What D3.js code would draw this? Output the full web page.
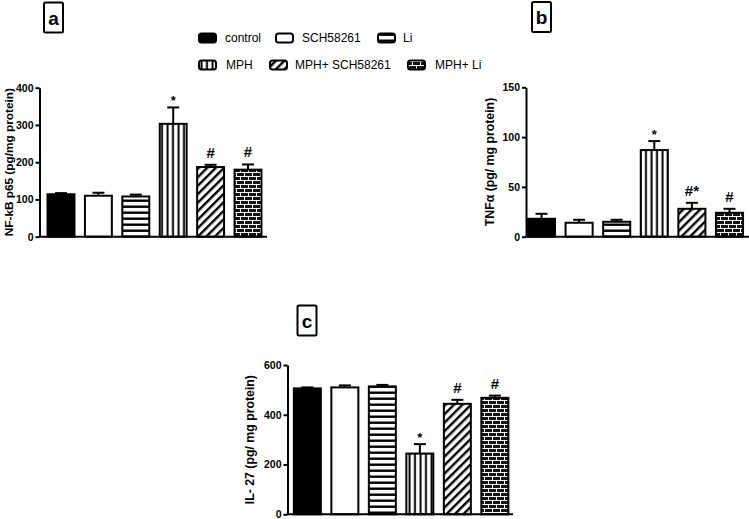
<!DOCTYPE html>
<html>
<head>
<meta charset="utf-8">
<script src="https://cdn.jsdelivr.net/npm/d3@7"></script>
<style>
  body { margin: 0; background: #fff; }
  svg { display: block; font-family: "Liberation Sans", Arial, sans-serif; }
</style>
</head>
<body>
<div id="chart"></div>
<script>
// Groups (shared by the three panels)
const groups = ["control", "SCH58261", "Li", "MPH", "MPH+ SCH58261", "MPH+ Li"];
const fills = ["url(#solid)", "url(#blank)", "url(#hstripe)", "url(#vstripe)", "url(#diag)", "url(#brick)"];

// Panel a: NF-kB p65
const nfkbMean = [114, 110, 108, 303, 187, 180];
const nfkbErr = [3, 8, 5, 44, 6, 14];
const nfkbMarks = ["", "", "", "*", "#", "#"];
const nfkbTicks = [0, 100, 200, 300, 400];

// Panel b: TNF-alpha
const tnfMean = [18, 14, 15, 87, 28, 24];
const tnfErr = [5, 3, 2, 9, 6, 4];
const tnfMarks = ["", "", "", "*", "#*", "#"];
const tnfTicks = [0, 50, 100, 150];

// Panel c: IL-27
const il27Mean = [506, 510, 514, 244, 444, 468];
const il27Err = [4, 8, 6, 38, 16, 9];
const il27Marks = ["", "", "", "*", "#", "#"];
const il27Ticks = [0, 200, 400, 600];

const W = 749, H = 519;

let svg = d3.select("#chart")
    .append("svg")
    .attr("width", W)
    .attr("height", H);

// Fill patterns for the bars
let defs = svg.append("defs");

defs.append("pattern").attr("id", "solid")
    .attr("patternUnits", "userSpaceOnUse").attr("width", 4).attr("height", 4)
    .append("rect").attr("width", 4).attr("height", 4).attr("fill", "#000");

defs.append("pattern").attr("id", "blank")
    .attr("patternUnits", "userSpaceOnUse").attr("width", 4).attr("height", 4)
    .append("rect").attr("width", 4).attr("height", 4).attr("fill", "#fff");

let hs = defs.append("pattern").attr("id", "hstripe")
    .attr("patternUnits", "userSpaceOnUse").attr("width", 6).attr("height", 6);
hs.append("rect").attr("width", 6).attr("height", 6).attr("fill", "#fff");
hs.append("rect").attr("y", 1.5).attr("width", 6).attr("height", 2.4).attr("fill", "#000");

let vs = defs.append("pattern").attr("id", "vstripe")
    .attr("patternUnits", "userSpaceOnUse").attr("width", 5.5).attr("height", 6);
vs.append("rect").attr("width", 5.5).attr("height", 6).attr("fill", "#fff");
vs.append("rect").attr("x", 1.5).attr("width", 2).attr("height", 6).attr("fill", "#000");

let dg = defs.append("pattern").attr("id", "diag")
    .attr("patternUnits", "userSpaceOnUse").attr("width", 6).attr("height", 6)
    .attr("patternTransform", "rotate(45)");
dg.append("rect").attr("width", 6).attr("height", 6).attr("fill", "#fff");
dg.append("rect").attr("x", 0).attr("width", 2.4).attr("height", 6).attr("fill", "#000");

let bk = defs.append("pattern").attr("id", "brick")
    .attr("patternUnits", "userSpaceOnUse").attr("width", 8).attr("height", 8);
bk.append("rect").attr("width", 8).attr("height", 8).attr("fill", "#111");
bk.append("path")
    .attr("d", "M0,0.5H8 M0,4.5H8 M0.5,0.5V4.5 M4.5,4.5V8.5")
    .attr("stroke", "#fff").attr("stroke-width", 1).attr("fill", "none");

// Draw one bar panel
function drawPanel(p) {
    let g = svg.append("g");

    let x = d3.scaleBand()
        .domain(groups)
        .range(p.bandRange)
        .paddingInner(0.28)
        .paddingOuter(0.14);

    let y = d3.scaleLinear()
        .domain([0, p.ticks[p.ticks.length - 1]])
        .range(p.yRange);

    // bars
    g.selectAll("rect.bar")
        .data(groups)
        .enter()
        .append("rect")
        .attr("class", "bar")
        .attr("x", d => x(d))
        .attr("y", (d, i) => y(p.mean[i]))
        .attr("width", x.bandwidth())
        .attr("height", (d, i) => y(0) - y(p.mean[i]))
        .attr("fill", (d, i) => fills[i])
        .attr("stroke", "#000")
        .attr("stroke-width", 2);

    // error bars (upper only)
    let eb = g.selectAll("g.err")
        .data(groups)
        .enter()
        .append("g");
    eb.append("line")
        .attr("x1", d => x(d) + x.bandwidth() / 2)
        .attr("x2", d => x(d) + x.bandwidth() / 2)
        .attr("y1", (d, i) => y(p.mean[i]))
        .attr("y2", (d, i) => y(p.mean[i] + p.err[i]))
        .attr("stroke", "#000").attr("stroke-width", 2);
    eb.append("line")
        .attr("x1", d => x(d) + x.bandwidth() / 2 - 6)
        .attr("x2", d => x(d) + x.bandwidth() / 2 + 6)
        .attr("y1", (d, i) => y(p.mean[i] + p.err[i]))
        .attr("y2", (d, i) => y(p.mean[i] + p.err[i]))
        .attr("stroke", "#000").attr("stroke-width", 2);

    // significance marks
    g.selectAll("text.mark")
        .data(groups)
        .enter()
        .append("text")
        .attr("x", d => x(d) + x.bandwidth() / 2)
        .attr("y", (d, i) => y(p.mean[i] + p.err[i]) - (p.marks[i] == "*" ? 2 : 7))
        .attr("text-anchor", "middle")
        .style("font-size", (d, i) => p.marks[i] == "*" ? "13px" : "15px")
        .style("font-weight", "bold")
        .text((d, i) => p.marks[i]);

    // y axis
    let ax = g.append("g")
        .attr("transform", `translate(${p.axisX}, 0)`)
        .call(d3.axisLeft(y).tickValues(p.ticks).tickSize(4).tickSizeOuter(0).tickPadding(2));
    ax.select(".domain").attr("stroke-width", 2);
    ax.selectAll(".tick line").attr("stroke-width", 2);
    ax.selectAll(".tick text")
        .style("font-size", "10.5px")
        .style("font-weight", "bold")
        .style("font-family", '"Liberation Sans", Arial, sans-serif')
        .attr("fill", "#000");

    // x axis baseline
    g.append("line")
        .attr("x1", p.axisX - 1)
        .attr("x2", p.axisEnd)
        .attr("y1", y(0))
        .attr("y2", y(0))
        .attr("stroke", "#000").attr("stroke-width", 2);

    // y axis title
    g.append("text")
        .attr("transform", `translate(${p.titleX}, ${(p.yRange[0] + p.yRange[1]) / 2}) rotate(-90)`)
        .attr("text-anchor", "middle")
        .attr("dy", "0.35em")
        .style("font-size", p.titleSize)
        .style("font-weight", "bold")
        .text(p.title);

    // boxed panel letter
    g.append("rect")
        .attr("x", p.box[0]).attr("y", p.box[1])
        .attr("width", 19).attr("height", 30)
        .attr("rx", 1.5)
        .attr("fill", "#fff").attr("stroke", "#000").attr("stroke-width", 2);
    g.append("text")
        .attr("x", p.box[0] + 9.5)
        .attr("y", p.box[1] + 22)
        .attr("text-anchor", "middle")
        .style("font-size", "19px")
        .style("font-weight", "bold")
        .text(p.letter);
}

drawPanel({
    mean: nfkbMean, err: nfkbErr, marks: nfkbMarks, ticks: nfkbTicks,
    bandRange: [42.3, 266.7], yRange: [236.7, 87.7],
    axisX: 39.5, axisEnd: 267, titleX: 9, titleSize: "11.8px",
    title: "NF-kB p65 (pg/mg protein)", letter: "a", box: [44, 2.5]
});

drawPanel({
    mean: tnfMean, err: tnfErr, marks: tnfMarks, ticks: tnfTicks,
    bandRange: [522.7, 748.3], yRange: [236.7, 87.3],
    axisX: 526, axisEnd: 749, titleX: 490, titleSize: "12.3px",
    title: "TNFα (pg/ mg protein)", letter: "b", box: [532, 2]
});

drawPanel({
    mean: il27Mean, err: il27Err, marks: il27Marks, ticks: il27Ticks,
    bandRange: [288.6, 513.6], yRange: [514.3, 365],
    axisX: 287.5, axisEnd: 513, titleX: 250, titleSize: "12.3px",
    title: "IL- 27 (pg/ mg protein)", letter: "c", box: [297.5, 305.5]
});

// Legend (two rows of three)
const legendX = [199, 276, 378, 199, 270, 408];
const legendY = [38, 38, 38, 65, 65, 65];
let lg = svg.append("g");
let items = lg.selectAll("g")
    .data(groups)
    .enter()
    .append("g")
    .attr("transform", (d, i) => `translate(${legendX[i]}, ${legendY[i]})`);
items.append("rect")
    .attr("x", 0).attr("y", -4.5)
    .attr("width", 17).attr("height", 9)
    .attr("rx", 2.5)
    .attr("fill", (d, i) => fills[i])
    .attr("stroke", "#000").attr("stroke-width", 2);
items.append("text")
    .attr("x", (d, i) => [26, 26, 25, 27, 25, 27][i])
    .attr("dy", "0.36em")
    .style("font-size", "12px")
    .text(d => d);
</script>
</body>
</html>
